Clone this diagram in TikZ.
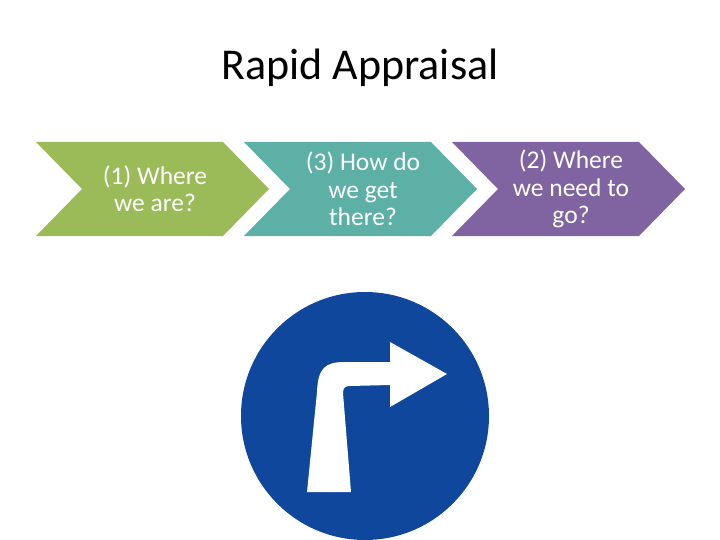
\documentclass[tikz,border=0pt]{standalone}
\usepackage{fontspec}
\setmainfont{Carlito}
\definecolor{stepgreen}{HTML}{9BBB59}
\definecolor{stepteal}{HTML}{5DB0A6}
\definecolor{steppurple}{HTML}{8064A2}
\definecolor{signblue}{HTML}{0F479D}
\begin{document}
\begin{tikzpicture}[x=1pt,y=-1pt,
    step text/.style={text=white,align=center,font=\fontsize{25.5}{27.5}\selectfont},
    chevron/.style={fill=#1,draw=none}]
    \useasboundingbox (0,0) rectangle (720,540);
    \clip (0,0) rectangle (720,540);

    \node[font=\fontsize{44}{48}\selectfont] (title) at (360,68) {Rapid Appraisal};

    % chevrons
    \foreach \x/\c in {36/stepgreen,244/stepteal,452/steppurple}
        \fill[chevron=\c] (\x,142) -- ++(187,0) -- ++(46,47) -- ++(-46,47)
            -- ++(-187,0) -- ++(46,-47) -- cycle;
    \node[step text] (where) at (155,189) {(1) Where\\we are?};
    \node[step text] (how)   at (363,189) {(3) How do\\we get\\there?};
    \node[step text] (need)  at (571,189) {(2) Where\\we need to\\go?};

    % sign
    \fill[signblue] (365,416) circle (124);
    \fill[white] (307,492) -- (317,392) .. controls (318,368) and (325,362) .. (345,362)
        -- (390,362) -- (390,342) -- (447,374) -- (390,407) -- (390,385)
        -- (350,386) .. controls (345,386) and (343,388) .. (343,393) -- (351,492) -- cycle;
\end{tikzpicture}
\end{document}
